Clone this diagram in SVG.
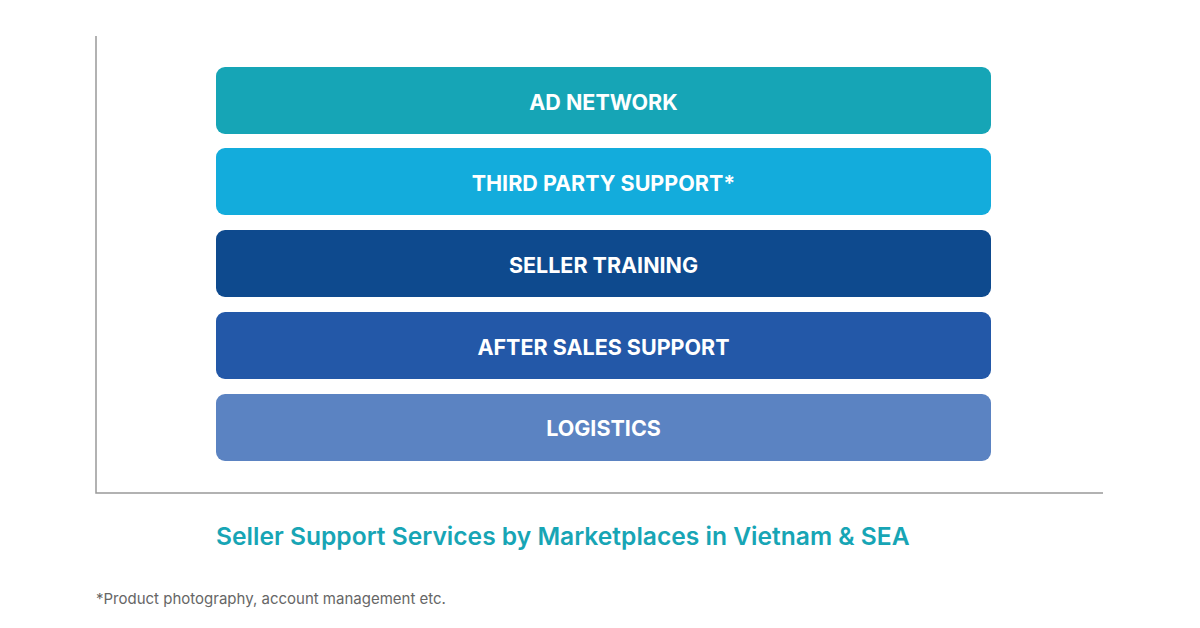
<svg xmlns="http://www.w3.org/2000/svg" width="1200" height="628" viewBox="0 0 1200 628">
<style>
.box{stroke:none}
.lbl{font-family:Inter,"Liberation Sans",sans-serif;font-weight:700;font-size:21.5px;fill:#ffffff;text-anchor:middle}
.axis{stroke:#999999;stroke-width:1.5;fill:none}
.title{font-family:Inter,"Liberation Sans",sans-serif;font-weight:600;font-size:24.6px;fill:#17a5b5}
.note{font-family:Inter,"Liberation Sans",sans-serif;font-size:15px;fill:#666666}
</style>
<rect width="1200" height="628" fill="#ffffff"/>
<g id="axes">
<path class="axis" d="M96 36 V493 H1103"/>
</g>
<g id="ad-network">
<rect class="box" x="216" y="67" width="775" height="67" rx="9" fill="#16a5b6"/>
<text class="lbl" x="603.5" y="110">AD NETWORK</text>
</g>
<g id="third-party">
<rect class="box" x="216" y="148" width="775" height="67" rx="9" fill="#13acdc"/>
<text class="lbl" x="603.5" y="191">THIRD PARTY SUPPORT*</text>
</g>
<g id="seller-training">
<rect class="box" x="216" y="230" width="775" height="67" rx="9" fill="#0e4a8e"/>
<text class="lbl" x="603.5" y="273">SELLER TRAINING</text>
</g>
<g id="after-sales">
<rect class="box" x="216" y="312" width="775" height="67" rx="9" fill="#2358a8"/>
<text class="lbl" x="603.5" y="355">AFTER SALES SUPPORT</text>
</g>
<g id="logistics">
<rect class="box" x="216" y="394" width="775" height="67" rx="9" fill="#5b83c2"/>
<text class="lbl" x="603.5" y="436">LOGISTICS</text>
</g>
<g id="connectors"></g>
<text class="title" x="216" y="545">Seller Support Services by Marketplaces in Vietnam &amp; SEA</text>
<text class="note" x="96" y="604">*Product photography, account management etc.</text>
</svg>
